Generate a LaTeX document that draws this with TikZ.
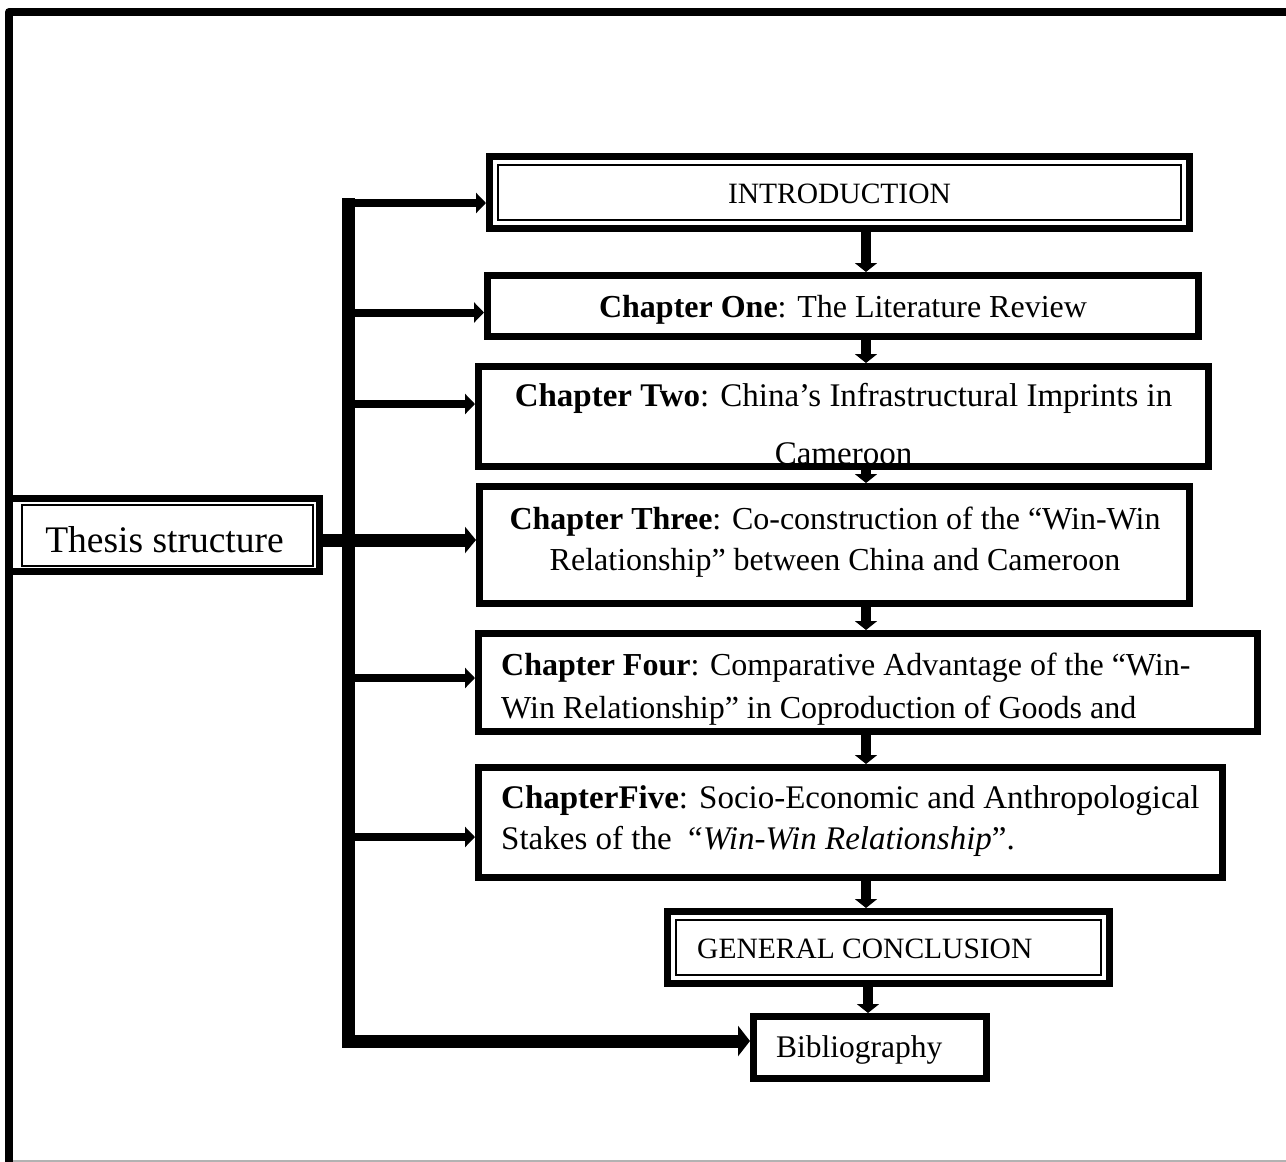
\documentclass[tikz,border=0pt]{standalone}
\usepackage{fontspec}
\setmainfont{Liberation Serif}
\usetikzlibrary{arrows.meta}
\begin{document}
\begin{tikzpicture}[x=1pt,y=-1pt,
  frameline/.style={line width=8pt, line join=round},
  box/.style={draw, line width=7pt, inner sep=0pt, fill=white},
  innerbox/.style={draw, line width=2pt, inner sep=0pt},
  trunkline/.style={line width=13pt, line join=miter, -{Triangle[length=12pt,width=30pt]}},
  branch/.style={line width=8pt, -{Triangle[length=10pt,width=20pt]}},
  mainbranch/.style={line width=13pt, line cap=round, -{Triangle[length=11pt,width=26pt]}},
  down/.style={line width=10pt, -{Triangle[length=9pt,width=22pt]}},
  chap/.style={inner sep=0pt, font=\fontsize{33}{40}\selectfont},
  chapnarrow/.style={inner sep=0pt, font=\fontsize{32}{40}\selectfont},
  capsline/.style={inner sep=0pt, font=\fontsize{29.5}{36}\selectfont},
  bibline/.style={inner sep=0pt, font=\fontsize{31.5}{38}\selectfont},
  titleline/.style={inner sep=0pt, font=\fontsize{37.5}{45}\selectfont}]

\useasboundingbox (0,0) rectangle (1286,1162);
\fill[white] (0,0) rectangle (1286,1162);

% boxes
\node[box, minimum width=700pt, minimum height=72pt]  (intro)  at (839.5,192.5) {};
\node[box, minimum width=711pt, minimum height=61pt]  (one)    at (843,306) {};
\node[box, minimum width=730pt, minimum height=100pt] (two)    at (843.5,416.5) {};
\node[box, minimum width=710pt, minimum height=117pt] (three)  at (834.5,545) {};
\node[box, minimum width=779pt, minimum height=98pt]  (four)   at (868,682.5) {};
\node[box, minimum width=744pt, minimum height=110pt] (five)   at (850.5,822.5) {};
\node[box, minimum width=442pt, minimum height=72pt]  (gc)     at (888.5,947.5) {};
\node[box, minimum width=233pt, minimum height=62pt]  (bib)    at (870,1047.5) {};
\node[box, minimum width=310pt, minimum height=73pt]  (thesis) at (164,534.5) {};

% inner rules of the framed boxes
\node[innerbox, minimum width=683pt, minimum height=55pt] (introIn) at (intro.center) {};
\node[innerbox, minimum width=425pt, minimum height=55pt] (gcIn) at (gc.center) {};
\node[innerbox, minimum width=291pt, minimum height=61pt] (thesisIn) at (167.5,535) {};

% page frame
\draw[frameline] (9,1162) -- (9,12) -- (1286,12);
\draw[black!30, line width=1.5pt] (13,1161) -- (1286,1161);

% texts
\node[capsline, anchor=base] (tIntro) at (839.5,203) {INTRODUCTION};
\node[chapnarrow, anchor=base] (tOne) at (843,317) {\textbf{Chapter One}: The Literature Review};
\begin{scope}
  \clip ([shift={(3.5,3.5)}]two.north west) rectangle ([shift={(-3.5,-3.5)}]two.south east);
  \node[chap, anchor=base] (tTwoA) at (843.5,406) {\textbf{Chapter Two}: China’s Infrastructural Imprints in};
  \node[chap, anchor=base] (tTwoB) at (843.5,464) {Cameroon};
\end{scope}
\node[chapnarrow, anchor=base] (tThreeA) at (835,529) {\textbf{Chapter Three}: Co-construction of the “Win-Win};
\node[chapnarrow, anchor=base] (tThreeB) at (835,570) {Relationship” between China and Cameroon};
\begin{scope}
  \clip ([shift={(3.5,3.5)}]four.north west) rectangle ([shift={(-3.5,-10)}]four.south east);
  \node[chapnarrow, anchor=base west] (tFourA) at (501,675) {\textbf{Chapter Four}: Comparative Advantage of the “Win-};
  \node[chapnarrow, anchor=base west] (tFourB) at (501,718) {Win Relationship” in Coproduction of Goods and};
\end{scope}
\node[chap, anchor=base west] (tFiveA) at (501,808) {\textbf{ChapterFive}: Socio-Economic and Anthropological};
\node[chap, anchor=base west] (tFiveB) at (501,849) {Stakes of the\hspace{0.4em}\textit{“Win-Win Relationship}”.};
\node[capsline, anchor=base west] (tGc) at (697,958) {GENERAL CONCLUSION};
\node[bibline, anchor=base west] (tBib) at (776,1057) {Bibliography};
\node[titleline, anchor=base] (tThesis) at (164.5,552) {Thesis structure};

% connector ends
\coordinate (tr) at (348.5,198);
\coordinate (ax) at (866,0);
\coordinate (bx) at (868,0);
\coordinate (inA)    at ([shift={(0,10.5)}]intro.west);
\coordinate (oneA)   at ([shift={(0,6.5)}]one.west);
\coordinate (twoA)   at ([shift={(0,-12.5)}]two.west);
\coordinate (threeA) at ([shift={(0,-5)}]three.west);
\coordinate (fourA)  at ([shift={(0,-4.5)}]four.west);
\coordinate (fiveA)  at ([shift={(0,14.5)}]five.west);
\coordinate (bibA)   at ([shift={(0,-6.5)}]bib.west);
\coordinate (thA)    at ([shift={(0,5.5)}]thesis.east);

% trunk and branches
\draw[trunkline] (tr) |- (bibA);
\draw[branch] (tr |- inA) -- (inA);
\draw[branch] (tr |- oneA) -- (oneA);
\draw[branch] (tr |- twoA) -- (twoA);
\draw[branch] (tr |- fourA) -- (fourA);
\draw[branch] (tr |- fiveA) -- (fiveA);
\draw[mainbranch] (thA) -- (threeA);

% chain of chapters
\draw[down] (intro.south -| ax) -- (one.north -| ax);
\draw[down] (one.south -| ax) -- (two.north -| ax);
\draw[down] (two.south -| ax) -- (three.north -| ax);
\draw[down] (three.south -| ax) -- (four.north -| ax);
\draw[down] (four.south -| ax) -- (five.north -| ax);
\draw[down] (five.south -| ax) -- (gc.north -| ax);
\draw[down] (gc.south -| bx) -- (bib.north -| bx);
\end{tikzpicture}
\end{document}
